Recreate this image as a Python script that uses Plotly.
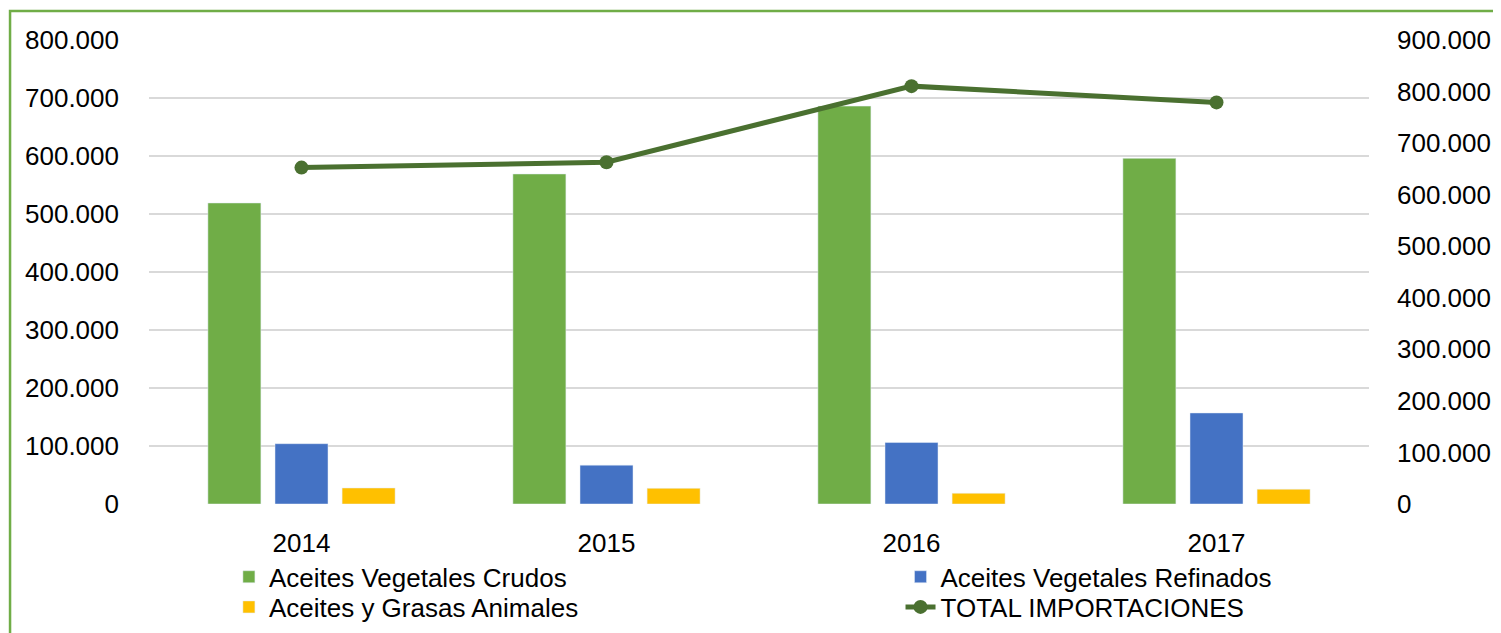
import plotly.graph_objects as go

years = ["2014", "2015", "2016", "2017"]
crudos = [519000, 569000, 686000, 596000]
refinados = [104000, 67000, 106000, 157000]
animales = [27600, 27000, 18500, 25500]
total = [652500, 663000, 810500, 779000]

font = "Liberation Sans"

fig = go.Figure()
fig.add_trace(go.Bar(x=years, y=crudos, name="Aceites Vegetales Crudos",
                     marker_color="#70AD47", legend="legend"))
fig.add_trace(go.Bar(x=years, y=refinados, name="Aceites Vegetales Refinados",
                     marker_color="#4472C4", legend="legend2"))
fig.add_trace(go.Bar(x=years, y=animales, name="Aceites y Grasas Animales",
                     marker_color="#FFC000", legend="legend3"))
fig.add_trace(go.Scatter(x=years, y=total, name="TOTAL IMPORTACIONES",
                         mode="lines+markers", yaxis="y2", legend="legend4",
                         line=dict(color="#4A7030", width=5),
                         marker=dict(color="#4A7030", size=14)))

# one legend per entry so the 2x2 grid sits where the reference has it
def leg(x, y):
    return dict(x=x, y=y, xanchor="left", yanchor="middle",
                font=dict(size=26), bgcolor="rgba(0,0,0,0)")

# page body has an 8px margin, so the figure is 8px smaller each way
fig.update_layout(
    width=1493, height=625,
    margin=dict(l=141, r=132, t=32, b=129, autoexpand=False),
    paper_bgcolor="white", plot_bgcolor="white",
    separators=",.",
    font=dict(family=font, size=26, color="black"),
    barmode="group", bargap=0.34, bargroupgap=0.21,
    showlegend=True,
    legend=leg(0.0655, -0.157),
    legend2=leg(0.616, -0.157),
    legend3=leg(0.0655, -0.222),
    legend4=leg(0.616, -0.222),
    xaxis=dict(showgrid=False, ticks="", ticklabelstandoff=21, showline=False,
               tickfont=dict(size=26)),
    yaxis=dict(range=[0, 800000], dtick=100000, tickformat=",d",
               gridcolor="#D9D9D9", gridwidth=1.5, zeroline=False,
               ticks="", ticklabelstandoff=29, tickfont=dict(size=26)),
    yaxis2=dict(range=[0, 900000], dtick=100000, tickformat=",d",
                overlaying="y", side="right", showgrid=False, zeroline=False,
                ticks="", ticklabelstandoff=27, tickfont=dict(size=26)),
)

fig.add_shape(type="rect", xref="paper", yref="paper",
              x0=-0.1139, x1=1.1066, y0=-0.35, y1=1.0625,
              line=dict(color="#70AD47", width=2.5), fillcolor="rgba(0,0,0,0)")

fig.write_html("out.html")
